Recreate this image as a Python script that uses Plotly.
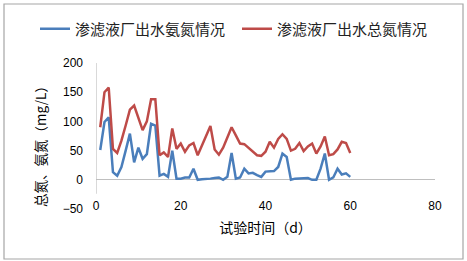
import plotly.graph_objects as go

days = list(range(1, 61))
ammonia = [51, 99, 107, 13, 7, 22, 50, 79, 30, 55,
           36, 44, 96, 93, 7, 10, 5, 50, 2, 2,
           4, 4, 19, 0, 1, 1, 2, 3, 4, 0,
           5, 46, 2, 4, 19, 11, 12, 8, 5, 14,
           15, 15, 22, 45, 39, 0, 2, 2, 2, 3,
           0, 0, 19, 45, 0, 4, 19, 9, 11, 5]
total_n = [90, 150, 158, 53, 46, 67, 93, 120, 127, 107,
           85, 100, 138, 138, 42, 47, 39, 88, 53, 62,
           48, 59, 63, 42, 59, 74, 92, 52, 43, 55,
           74, 90, 76, 62, 61, 55, 49, 42, 41, 48,
           65, 55, 70, 78, 70, 50, 53, 63, 49, 57,
           62, 45, 57, 74, 42, 44, 52, 65, 63, 46]
series_names = ["渗滤液厂出水氨氮情况", "渗滤液厂出水总氮情况"]
x_ticks = [0, 20, 40, 60, 80]
y_ticks = [-50, 0, 50, 100, 150, 200]
x_title = "试验时间（d）"
y_title = "总氮、氨氮（mg/L）"

W, H = 467, 261
L, R, T, B = 96, 32, 63, 52
pw, ph = W - L - R, H - T - B

def px(xp):
    return (xp - L) / pw

def py(yp):
    return (H - B - yp) / ph

FONT = "Liberation Sans, Noto Sans CJK SC, sans-serif"

fig = go.Figure()
fig.add_trace(go.Scatter(x=days, y=ammonia, mode="lines", name=series_names[0],
                         line=dict(color="#4A7EBB", width=2.5)))
fig.add_trace(go.Scatter(x=days, y=total_n, mode="lines", name=series_names[1],
                         line=dict(color="#BE4B48", width=2.5)))

fig.update_layout(
    width=W, height=H,
    margin=dict(l=L, r=R, t=T, b=B, autoexpand=False),
    paper_bgcolor="white", plot_bgcolor="white",
    font=dict(family=FONT, color="#000000"),
    showlegend=True,
    legend=dict(orientation="h", x=px(35), y=py(29), xanchor="left", yanchor="middle",
                font=dict(size=15, family="Noto Sans CJK SC", color="#222222"),
                bgcolor="rgba(0,0,0,0)", itemwidth=30, tracegroupgap=0,
                entrywidth=157, entrywidthmode="pixels"),
    xaxis=dict(range=[0, 80], tickvals=x_ticks, showgrid=False, zeroline=False,
               showline=False, ticks="", anchor="free", position=0.085,
               automargin=False,
               tickfont=dict(size=12, color="#000000"),
               title=dict(text=x_title, font=dict(size=14, family="Noto Sans CJK SC"),
                          standoff=11)),
    yaxis=dict(range=[-50, 200], tickvals=y_ticks, showgrid=False,
               zeroline=True, zerolinecolor="#BFBFBF", zerolinewidth=1.2,
               showline=False, ticks="", ticklabelstandoff=12, automargin=False,
               tickfont=dict(size=12, color="#000000")),
    annotations=[
        dict(text=y_title, xref="paper", yref="paper", x=px(40), y=py(143),
             xanchor="center", yanchor="middle", textangle=-90, showarrow=False,
             font=dict(size=13.5, family="Noto Sans CJK SC", color="#000000")),
    ],
    shapes=[
        dict(type="line", xref="x", yref="y", x0=0, x1=0, y0=-24, y1=200,
             line=dict(color="#BFBFBF", width=1.2)),
        dict(type="rect", xref="paper", yref="paper",
             x0=px(4), x1=px(463), y0=py(259), y1=py(4),
             line=dict(color="#A6A6A6", width=1.2), layer="below"),
    ],
)

fig.write_html("out.html", config={"displayModeBar": False, "staticPlot": True},
               post_script="document.body.style.margin='0';document.body.style.overflow='hidden';")
